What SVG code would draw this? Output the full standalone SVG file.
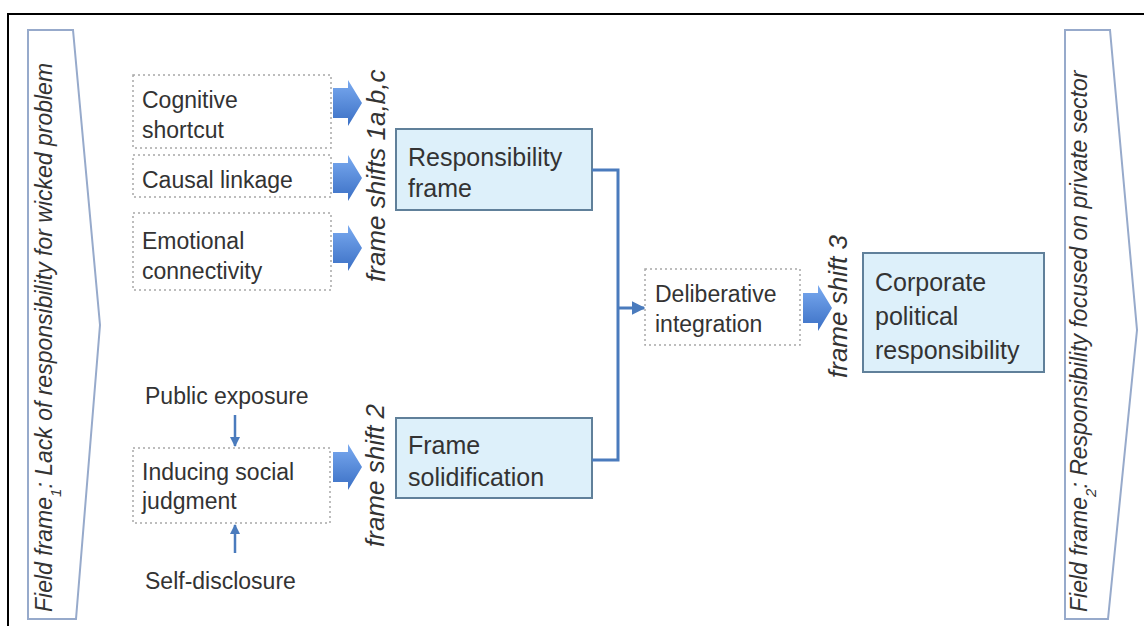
<svg xmlns="http://www.w3.org/2000/svg" width="1144" height="626" viewBox="0 0 1144 626">
<defs>
<linearGradient id="blk" x1="0" y1="0" x2="0" y2="1">
<stop offset="0" stop-color="#7aaaf0"/>
<stop offset="1" stop-color="#3a6fc4"/>
</linearGradient>
<marker id="ah" viewBox="0 0 10 10" refX="9" refY="5" markerWidth="4" markerHeight="4" orient="auto">
<path d="M0,0 L10,5 L0,10 z" fill="#4a7bbd"/>
</marker>
<marker id="ah2" viewBox="0 0 10 10" refX="9" refY="5" markerWidth="4.5" markerHeight="4.5" orient="auto">
<path d="M0,0 L10,5 L0,10 z" fill="#4a7bbd"/>
</marker>
<style>
text{font-family:"Liberation Sans",Arial,sans-serif;fill:#333}
.t{font-size:23px}
.b{font-size:25px}
.it{font-style:italic;font-size:26px}
.ch{font-style:italic;font-size:23px}
.dot{fill:#fff;stroke:#a8a8a8;stroke-width:1.5;stroke-dasharray:2 3}
.box{fill:#ddf0fa;stroke:#60809a;stroke-width:2}
.chev{fill:#fff;stroke:#97aacb;stroke-width:2}
.con{fill:none;stroke:#4a7bbd;stroke-width:3}
.blk{fill:url(#blk)}
</style>
</defs>
<rect x="8" y="14" width="1160" height="640" fill="none" stroke="#000" stroke-width="2"/>

<g id="field1">
<polygon class="chev" points="28,30 73,30 100,325 76,619 28,619"/>
<text class="ch" transform="translate(52,612) rotate(-90)">Field frame<tspan font-size="15" baseline-shift="sub">1</tspan>: Lack of responsibility for wicked problem</text>
</g>
<g id="field2">
<polygon class="chev" points="1065,30 1110,30 1137,330 1108,619 1065,619"/>
<text class="ch" transform="translate(1087,612) rotate(-90)">Field frame<tspan font-size="15" baseline-shift="sub">2</tspan>: Responsibility focused on private sector</text>
</g>

<g id="cognitive">
<rect class="dot" x="133" y="75" width="198" height="73"/>
<text class="t" x="142" y="108">Cognitive</text>
<text class="t" x="142" y="138">shortcut</text>
</g>
<g id="causal">
<rect class="dot" x="133" y="155" width="198" height="42"/>
<text class="t" x="142" y="188">Causal linkage</text>
</g>
<g id="emotional">
<rect class="dot" x="133" y="213" width="198" height="77"/>
<text class="t" x="142" y="249">Emotional</text>
<text class="t" x="142" y="279">connectivity</text>
</g>

<g id="shift1">
<path class="blk" d="M333,88 H348 V80 L362,103 L348,126 V118 H333 Z"/>
<path class="blk" d="M333,163 H348 V155 L362,178 L348,201 V193 H333 Z"/>
<path class="blk" d="M333,233 H348 V225 L362,248 L348,271 V263 H333 Z"/>
<text class="it" transform="translate(385,282) rotate(-90)">frame shifts 1a,b,c</text>
</g>

<g id="responsibility">
<rect class="box" x="396" y="129" width="196" height="81"/>
<text class="b" x="408" y="166">Responsibility</text>
<text class="b" x="408" y="197">frame</text>
</g>

<g id="public">
<text class="t" x="145" y="404">Public exposure</text>
</g>
<g id="inducing">
<rect class="dot" x="133" y="448" width="197" height="75"/>
<text class="t" x="142" y="480">Inducing social</text>
<text class="t" x="142" y="509">judgment</text>
</g>
<g id="self">
<text class="t" x="145" y="589">Self-disclosure</text>
</g>

<g id="shift2">
<path class="blk" d="M333,452 H348 V444 L362,467 L348,490 V482 H333 Z"/>
<text class="it" transform="translate(384,547) rotate(-90)">frame shift 2</text>
</g>

<g id="solidification">
<rect class="box" x="396" y="418" width="196" height="80"/>
<text class="b" x="408" y="454">Frame</text>
<text class="b" x="408" y="486">solidification</text>
</g>

<g id="deliberative">
<rect class="dot" x="645" y="269" width="155" height="76"/>
<text class="t" x="655" y="302">Deliberative</text>
<text class="t" x="655" y="332">integration</text>
</g>

<g id="shift3">
<path class="blk" d="M803,293 H818 V285 L832,308 L818,331 V323 H803 Z"/>
<text class="it" transform="translate(847,378) rotate(-90)">frame shift 3</text>
</g>

<g id="cpr">
<rect class="box" x="863" y="253" width="181" height="119"/>
<text class="b" x="875" y="291">Corporate</text>
<text class="b" x="875" y="325">political</text>
<text class="b" x="875" y="359">responsibility</text>
</g>

<g id="connectors">
<path class="con" d="M592,170 H618 V460 H592"/>
<path class="con" d="M618,308 H644" marker-end="url(#ah2)"/>
<line x1="235" y1="415" x2="235" y2="446" stroke="#4a7bbd" stroke-width="2.5" marker-end="url(#ah)"/>
<line x1="235" y1="553" x2="235" y2="525" stroke="#4a7bbd" stroke-width="2.5" marker-end="url(#ah)"/>
</g>
</svg>
